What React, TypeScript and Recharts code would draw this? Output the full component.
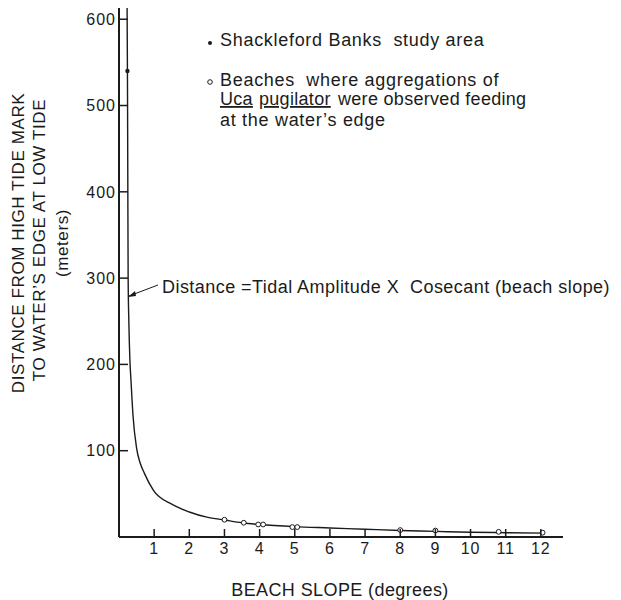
import { ComposedChart, Line, Scatter, XAxis, YAxis } from "recharts";

const ink = "#1b1b1b";
const font = "'Liberation Sans', Arial, Helvetica, sans-serif";

// x axis: beach slope (degrees), y axis: distance (meters)
const slopeTicks = [1, 2, 3, 4, 5, 6, 7, 8, 9, 10, 11, 12];
const distanceTicks = [100, 200, 300, 400, 500, 600];

// hand-drawn cosecant curve
const curveSlope = [0.23, 0.24, 0.25, 0.26, 0.28, 0.31, 0.34, 0.4, 0.5, 0.6, 0.72, 0.98, 1.5, 2.0, 2.5, 3.0, 3.5, 4.0, 5.0, 6.0, 7.0, 8.0, 9.0, 10.0, 11.0, 12.1];
const curveDistance = [613, 540, 420, 300, 250, 205, 182, 140, 103, 86, 74, 54, 38, 29, 23, 19.7, 16.5, 14.5, 12, 10.5, 9, 7.5, 6.5, 5.5, 5, 4.5];

// Shackleford Banks study area
const studySlope = [0.24];
const studyDistance = [540];

// beaches with Uca pugilator feeding at water's edge
const beachSlope = [3.0, 3.55, 3.96, 4.1, 4.93, 5.07, 8.0, 9.0, 10.8, 12.05];
const beachDistance = [20, 16.5, 14.5, 14.5, 11.5, 11.5, 8, 7.5, 6, 5];

const curve = curveSlope.map((s, i) => ({ x: s, y: curveDistance[i] }));
const study = studySlope.map((s, i) => ({ x: s, y: studyDistance[i] }));
const beaches = beachSlope.map((s, i) => ({ x: s, y: beachDistance[i] }));

const XTick = (props: any) => {
  const { x, y, payload } = props;
  return (
    <g>
      <line x1={x} x2={x} y1={y} y2={y - 8} stroke={ink} strokeWidth={1.5} />
      <text x={x} y={y + 17} textAnchor="middle" fontSize={16} letterSpacing={1} fill={ink} fontFamily={font}>
        {payload.value}
      </text>
    </g>
  );
};

const YTick = (props: any) => {
  const { x, y, payload } = props;
  return (
    <g>
      <line x1={x} x2={x + 9} y1={y} y2={y} stroke={ink} strokeWidth={1.5} />
      <text x={x - 3} y={y} dy="0.36em" textAnchor="end" fontSize={16} letterSpacing={1} fill={ink} fontFamily={font}>
        {payload.value}
      </text>
    </g>
  );
};

const OpenDot = (props: any) => (
  <circle cx={props.cx} cy={props.cy} r={2.4} fill="#fff" stroke={ink} strokeWidth={1} />
);
const FilledDot = (props: any) => <circle cx={props.cx} cy={props.cy} r={2.2} fill={ink} />;

const pre = { whiteSpace: "pre" as const };

export default function App() {
  return (
    <div style={{ position: "absolute", left: 0, top: 0, width: 621, height: 600, background: "#fff" }}>
      <ComposedChart width={621} height={600} margin={{ top: 8, right: 58, bottom: 33, left: 0 }}>
        <XAxis
          type="number"
          dataKey="x"
          domain={[0, 12.63]}
          ticks={slopeTicks}
          allowDataOverflow
          height={30}
          tickSize={0}
          tickMargin={0}
          tickLine={false}
          axisLine={{ stroke: ink, strokeWidth: 2 }}
          tick={<XTick />}
        />
        <YAxis
          type="number"
          domain={[0, 613]}
          ticks={distanceTicks}
          allowDataOverflow
          width={119}
          tickSize={0}
          tickMargin={0}
          tickLine={false}
          axisLine={{ stroke: ink, strokeWidth: 2 }}
          tick={<YTick />}
        />
        <Line data={curve} dataKey="y" type="monotone" stroke={ink} strokeWidth={1.4} dot={false} isAnimationActive={false} />
        <Scatter data={study} dataKey="y" shape={<FilledDot />} isAnimationActive={false} />
        <Scatter data={beaches} dataKey="y" shape={<OpenDot />} isAnimationActive={false} />

        {/* y axis title */}
        <g fontFamily={font} fill={ink} fontSize={17} letterSpacing={0.6}>
          <text x={18} y={243} transform="rotate(-90 18 243)" textAnchor="middle" dominantBaseline="central">
            DISTANCE FROM HIGH TIDE MARK
          </text>
          <text x={39} y={240} transform="rotate(-90 39 240)" textAnchor="middle" dominantBaseline="central">
            TO WATER’S EDGE AT LOW TIDE
          </text>
          <text x={62} y={243} transform="rotate(-90 62 243)" textAnchor="middle" dominantBaseline="central">
            (meters)
          </text>
        </g>

        {/* x axis title */}
        <text x={340} y={596} textAnchor="middle" fontFamily={font} fontSize={18} fill={ink} letterSpacing={0.4}>
          BEACH SLOPE (degrees)
        </text>

        {/* legend */}
        <g fontFamily={font} fontSize={18} fill={ink} letterSpacing={0.7}>
          <circle cx={210} cy={43} r={2} fill={ink} />
          <text x={220} y={46} style={pre}>Shackleford Banks  study area</text>
          <circle cx={210} cy={82} r={2.3} fill="#fff" stroke={ink} strokeWidth={1} />
          <text x={220} y={86} style={pre}>Beaches  where aggregations of</text>
          <text x={220} y={105} letterSpacing={0.3} textDecoration="underline">Uca</text>
          <text x={259} y={105} letterSpacing={0.3} textDecoration="underline">pugilator</text>
          <text x={338} y={105} letterSpacing={0.3}>were observed feeding</text>
          <text x={220} y={126}>at the water’s edge</text>
        </g>

        {/* equation annotation */}
        <line x1={158} y1={285} x2={129} y2={296} stroke={ink} strokeWidth={1} />
        <path d="M128 297 L135 291 L136 296 Z" fill={ink} />
        <text x={162} y={293} fontFamily={font} fontSize={18} fill={ink} letterSpacing={0.45} style={pre}>
          Distance =Tidal Amplitude X  Cosecant (beach slope)
        </text>
      </ComposedChart>
    </div>
  );
}
